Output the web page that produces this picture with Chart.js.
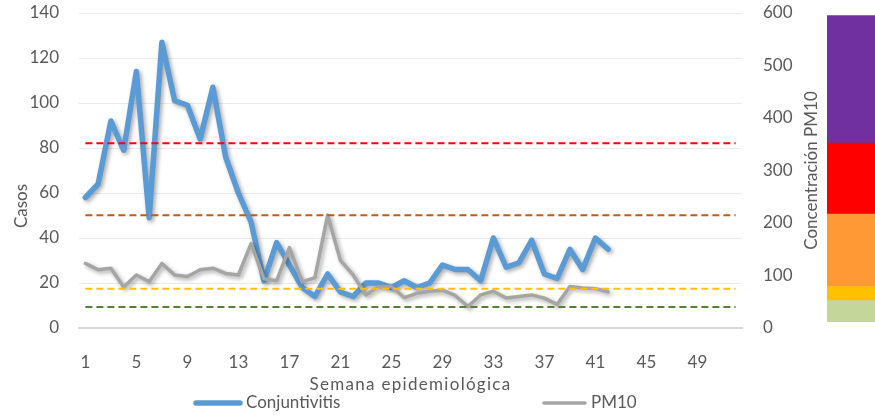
<!DOCTYPE html>
<html><head><meta charset="utf-8">
<script src="https://cdn.jsdelivr.net/npm/chart.js@4"></script>
<style>
body{margin:0;background:#fff;}
#wrap{position:relative;width:875px;height:418px;overflow:hidden;}
#wrap canvas{position:absolute;top:0;}
</style>
</head><body>
<div id="wrap">
<canvas id="main" width="875" height="418" style="left:0"></canvas>
<canvas id="band" width="48" height="418" style="left:827px"></canvas>
</div>
<script>
// ---- data ----
const weekLabels = [1,2,3,4,5,6,7,8,9,10,11,12,13,14,15,16,17,18,19,20,21,22,23,24,25,26,
  27,28,29,30,31,32,33,34,35,36,37,38,39,40,41,42,43,44,45,46,47,48,49,50,51,52];
const conjuntivitis = [58,64,92,79,114,49,127,101,99,84,107,76,60,47,21,38,28,18,14,24,16,14,
  20,20,18,21,18,20,28,26,26,21,40,27,29,39,24,22,35,26,40,35];
const pm10 = [123,111,114,78,101,88,123,101,98,111,114,104,101,161,94,90,153,88,96,215,129,101,
  63,79,79,58,66,70,72,62,41,63,70,57,60,63,57,45,79,76,75,69];
const limitRed = 352;
const limitOrange = 215;
const limitYellow = 75;
const limitGreen = 40;
const bandRanges = [[12,52],[52,79],[79,217],[217,352],[352,595]];
const leftTicks = {min:0, max:140, step:20};
const rightTicks = {min:0, max:600, step:100};

// ---- styles ----
const bandColors = ['#C4D79B','#FFC000','#FF9933','#FF0000','#7030A0'];
const FONT = 'Lato';
const TXT = '#595959';

const constLine = v => weekLabels.map(() => v);

const shadowPlugin = {
  id:'shadow',
  beforeDatasetDraw(chart, args){
    const ds = chart.data.datasets[args.index];
    if (ds.shadow){
      const c = chart.ctx; c.save();
      c.shadowColor='rgba(0,0,0,0.35)'; c.shadowBlur=4; c.shadowOffsetX=2; c.shadowOffsetY=2;
    }
  },
  afterDatasetDraw(chart, args){
    const ds = chart.data.datasets[args.index];
    if (ds.shadow) chart.ctx.restore();
  }
};

const titlePlugin = {
  id:'titles',
  afterDraw(chart){
    const c = chart.ctx, a = chart.chartArea;
    c.save();
    c.fillStyle = TXT;
    c.font = '17px ' + FONT;
    c.textBaseline = 'middle';
    c.textAlign = 'center';
    c.save(); c.translate(21.5, 206); c.rotate(-Math.PI/2); c.fillText('Casos', 0, 0); c.restore();
    c.save(); c.translate(812, (a.top+a.bottom)/2); c.rotate(-Math.PI/2); c.fillText('Concentración PM10', 0, 0); c.restore();
    c.save(); try{ c.letterSpacing='1.3px'; }catch(e){}
    c.fillText('Semana epidemiológica', (a.left+a.right)/2, 385); c.restore();
    const items = [
      {ds:chart.data.datasets[5], x0:194, x1:242},
      {ds:chart.data.datasets[4], x0:542, x1:587}
    ];
    const ly = 403;
    items.forEach(it=>{
      c.save();
      c.strokeStyle = it.ds.borderColor; c.lineWidth = it.ds.borderWidth; c.lineCap='round';
      c.beginPath(); c.moveTo(it.x0 + 2, ly); c.lineTo(it.x1 - 2, ly); c.stroke();
      c.restore();
      c.textAlign='left';
      c.fillText(it.ds.label, it.x1 + 4, ly);
    });
    c.restore();
  }
};

const dashed = (label, data, color) => ({
  label, data, yAxisID:'y1', borderColor:color, borderWidth:2, borderDash:[7,4],
  pointRadius:0, fill:false, tension:0
});

const noPad = s => { s.paddingTop = 0; s.paddingBottom = 0; };

new Chart(document.getElementById('main'), {
  type:'line',
  data:{
    labels: weekLabels,
    datasets:[
      dashed('Límite rojo', constLine(limitRed), '#FF0000'),
      dashed('Límite naranja', constLine(limitOrange), '#C55A11'),
      dashed('Límite amarillo', constLine(limitYellow), '#FFC000'),
      dashed('Límite verde', constLine(limitGreen), '#548235'),
      {label:'PM10', data:pm10, yAxisID:'y1', borderColor:'#A5A5A5', borderWidth:3.5,
       pointRadius:0, tension:0, shadow:true, borderJoinStyle:'round', borderCapStyle:'round'},
      {label:'Conjuntivitis', data:conjuntivitis, yAxisID:'y', borderColor:'#5B9BD5', borderWidth:5.5,
       pointRadius:0, tension:0, shadow:true, borderJoinStyle:'round', borderCapStyle:'round'}
    ]
  },
  options:{
    responsive:false, animation:false,
    layout:{padding:{top:13, right:0, bottom:0, left:0}},
    plugins:{legend:{display:false}, tooltip:{enabled:false}},
    scales:{
      x:{
        offset:true,
        grid:{display:false},
        border:{display:true, color:'#D9D9D9', width:2},
        ticks:{autoSkip:false, maxRotation:0, padding:16, color:TXT, font:{family:FONT, size:17},
          callback:(v,i)=> (i % 4 === 0 ? weekLabels[i] : '')},
        afterFit:s=>{ s.height = 90; s.paddingLeft = 0; s.paddingRight = 0; }
      },
      y:{
        position:'left', min:leftTicks.min, max:leftTicks.max,
        grid:{color:'#EAEAEA', lineWidth:1, drawTicks:false},
        border:{display:false},
        ticks:{stepSize:leftTicks.step, padding:20, color:TXT, font:{family:FONT, size:17}},
        afterFit:s=>{ s.width = 79; noPad(s); }
      },
      y1:{
        position:'right', min:rightTicks.min, max:rightTicks.max,
        grid:{display:false, drawTicks:false},
        border:{display:false},
        ticks:{stepSize:rightTicks.step, padding:21, color:TXT, font:{family:FONT, size:17}},
        afterFit:s=>{ s.width = 133; noPad(s); }
      }
    }
  },
  plugins:[shadowPlugin, titlePlugin]
});

new Chart(document.getElementById('band'), {
  type:'bar',
  data:{
    labels:[''],
    datasets: bandRanges.map((r,i)=>({
      label:'Banda '+(i+1), data:[r], backgroundColor:bandColors[i],
      barPercentage:1, categoryPercentage:1, grouped:false, borderWidth:0
    }))
  },
  options:{
    responsive:false, animation:false,
    layout:{padding:{top:13, bottom:90, left:0, right:0}},
    plugins:{legend:{display:false}, tooltip:{enabled:false}},
    scales:{
      x:{display:false},
      y:{display:false, min:rightTicks.min, max:rightTicks.max}
    }
  }
});
</script>
</body></html>
